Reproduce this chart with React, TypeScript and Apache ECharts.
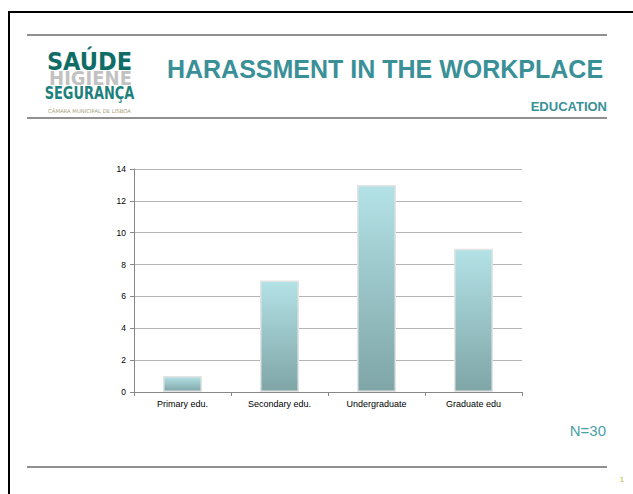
import React, { useEffect, useRef } from "react";
import * as echarts from "echarts";

const categories = ["Primary edu.", "Secondary edu.", "Undergraduate", "Graduate edu"];
const counts = [1, 7, 13, 9];
const yTicks = { min: 0, max: 14, interval: 2 };
const title = "HARASSMENT IN THE WORKPLACE";
const subtitle = "EDUCATION";
const note = "N=30";

export default function App() {
  const ref = useRef<HTMLDivElement>(null);
  useEffect(() => {
    const chart = echarts.init(ref.current!, null, { renderer: "svg" });
    const font = "Liberation Sans, Arial, sans-serif";
    const cond = "DejaVu Sans Condensed, DejaVu Sans, sans-serif";
    chart.setOption({
      animation: false,
      backgroundColor: "#fff",
      grid: { left: 134, right: 111, top: 169, bottom: 102, containLabel: false },
      xAxis: {
        type: "category",
        data: categories,
        axisLine: { lineStyle: { color: "#888", width: 1 } },
        axisTick: { show: true, length: 4, lineStyle: { color: "#888" } },
        axisLabel: { fontSize: 9, color: "#000", fontFamily: font, margin: 7 },
      },
      yAxis: {
        type: "value",
        min: yTicks.min,
        max: yTicks.max,
        interval: yTicks.interval,
        axisLine: { show: true, lineStyle: { color: "#888", width: 1 } },
        axisTick: { show: true, length: 4, lineStyle: { color: "#888" } },
        axisLabel: { fontSize: 8.5, color: "#000", fontFamily: font, margin: 8 },
        splitLine: { lineStyle: { color: "#b4b4b4", width: 1 } },
      },
      series: [
        {
          type: "bar",
          data: counts,
          barWidth: 39,
          itemStyle: {
            color: new echarts.graphic.LinearGradient(0, 0, 0, 1, [
              { offset: 0, color: "#b3e2e6" },
              { offset: 1, color: "#7fa5a7" },
            ]),
            borderColor: "#e4e4e4",
            borderWidth: 1.5,
          },
        },
      ],
      graphic: [
        {
          type: "rect",
          shape: { x: 9, y: 12, width: 700, height: 600 },
          style: { fill: "none", stroke: "#000", lineWidth: 2 },
          silent: true,
        },
        { type: "line", shape: { x1: 27, y1: 35, x2: 607, y2: 35 }, style: { stroke: "#222", lineWidth: 1.2 } },
        { type: "line", shape: { x1: 27, y1: 118, x2: 607, y2: 118 }, style: { stroke: "#222", lineWidth: 1.2 } },
        { type: "line", shape: { x1: 27, y1: 467, x2: 607, y2: 467 }, style: { stroke: "#222", lineWidth: 1.2 } },
        {
          type: "text",
          x: 89.5,
          y: 61,
          style: {
            text: "SAÚDE",
            fontFamily: cond,
            fontWeight: "bold",
            fontSize: 25,
            fill: "#0f6d66",
            align: "center",
            verticalAlign: "middle",
          },
        },
        {
          type: "text",
          x: 90.5,
          y: 77.5,
          z: -1,
          style: {
            text: "HIGIENE",
            fontFamily: cond,
            fontWeight: "bold",
            fontSize: 20,
            fill: "#c2c2c2",
            align: "center",
            verticalAlign: "middle",
          },
        },
        {
          type: "text",
          x: 89.5,
          y: 93,
          scaleX: 0.8,
          style: {
            text: "SEGURANÇA",
            fontFamily: cond,
            fontWeight: "bold",
            fontSize: 18,
            fill: "#1c817c",
            align: "center",
            verticalAlign: "middle",
          },
        },
        {
          type: "text",
          x: 89.5,
          y: 111,
          style: {
            text: "CÂMARA MUNICIPAL DE LISBOA",
            fontFamily: "DejaVu Sans, sans-serif",
            fontSize: 5.3,
            fill: "#a3a27a",
            align: "center",
            verticalAlign: "middle",
          },
        },
        {
          type: "text",
          x: 385,
          y: 69,
          style: {
            text: title,
            fontFamily: font,
            fontWeight: "bold",
            fontSize: 25,
            fill: "#3a9097",
            align: "center",
            verticalAlign: "middle",
          },
        },
        {
          type: "text",
          x: 607,
          y: 106,
          style: {
            text: subtitle,
            fontFamily: font,
            fontWeight: "bold",
            fontSize: 13,
            fill: "#3a9097",
            align: "right",
            verticalAlign: "middle",
          },
        },
        {
          type: "text",
          x: 606,
          y: 430,
          style: {
            text: note,
            fontFamily: font,
            fontSize: 15,
            fill: "#4a9fa6",
            align: "right",
            verticalAlign: "middle",
          },
        },
        {
          type: "text",
          x: 622,
          y: 479,
          style: {
            text: "1",
            fontFamily: font,
            fontSize: 8,
            fill: "#b8b820",
            align: "center",
            verticalAlign: "middle",
          },
        },
      ],
    });
    return () => chart.dispose();
  }, []);
  return (
    <div
      ref={ref}
      style={{ position: "fixed", left: 0, top: 0, width: 633, height: 494 }}
    />
  );
}
